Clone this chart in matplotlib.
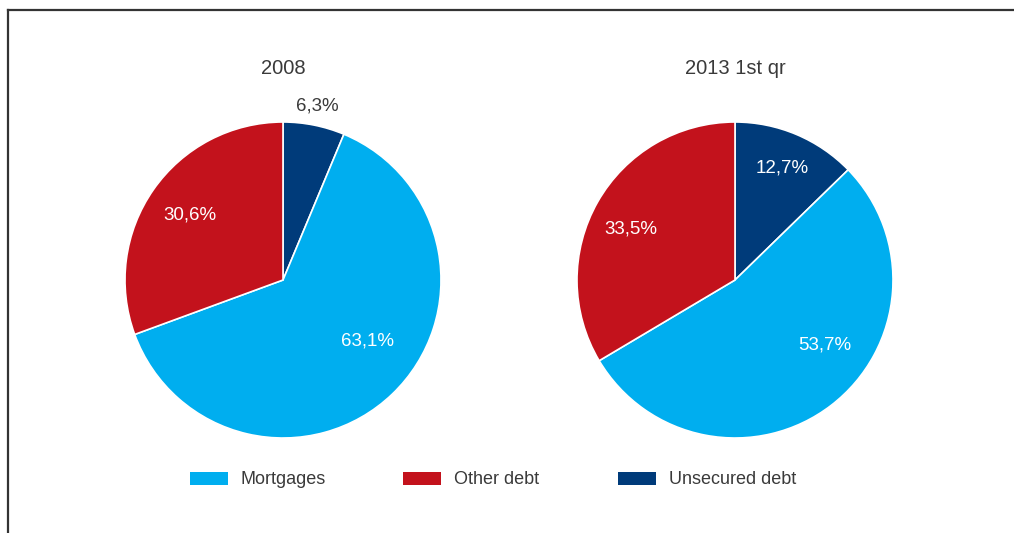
import numpy as np
import matplotlib
matplotlib.use("Agg")
import matplotlib.pyplot as plt
from matplotlib.lines import Line2D
from matplotlib.patches import Patch

plt.rcParams["font.family"] = ["Liberation Sans", "DejaVu Sans"]

# ── data ──────────────────────────────────────────────────────────────
categories = ["Unsecured debt", "Mortgages", "Other debt"]
share_2008 = [6.3, 63.1, 30.6]
share_2013 = [12.7, 53.7, 33.5]
titles = ["2008", "2013 1st qr"]
legend_order = ["Mortgages", "Other debt", "Unsecured debt"]

colors = {"Mortgages": "#00AEEF", "Other debt": "#C3121C",
          "Unsecured debt": "#003B7A"}
text_col = "#3a3a3a"

# label placement (angle override in degrees, radius); None = slice middle
label_style = [
    {"Unsecured debt": (None, 1.12), "Mortgages": (-35.5, 0.66), "Other debt": (None, 0.72)},
    {"Unsecured debt": (None, 0.77), "Mortgages": (-36.0, 0.70), "Other debt": (154.0, 0.73)},
]

fig = plt.figure(figsize=(10.14, 5.33), dpi=100)

centers_x = [283, 735]
radius_px = 158
cy = 280
W, H = 1014, 533

for k, (vals, title) in enumerate(zip([share_2008, share_2013], titles)):
    cx = centers_x[k]
    ax = fig.add_axes([(cx - radius_px) / W, 1 - (cy + radius_px) / H,
                       2 * radius_px / W, 2 * radius_px / H])
    wedges, _ = ax.pie(vals, colors=[colors[c] for c in categories],
                       startangle=90, counterclock=False,
                       wedgeprops=dict(edgecolor="white", linewidth=1.2))
    ax.set_xlim(-1, 1)
    ax.set_ylim(-1, 1)
    ax.set_aspect("equal")
    for w, v, cat in zip(wedges, vals, categories):
        ang, r = label_style[k][cat]
        if ang is None:
            ang = (w.theta1 + w.theta2) / 2
        a = np.deg2rad(ang)
        col = "white" if r < 1 else text_col
        ax.text(r * np.cos(a), r * np.sin(a), f"{v:.1f}%".replace(".", ","),
                ha="center", va="center", fontsize=13.5, color=col)
    ax.text(0, 1 + 53 / radius_px, title, ha="center", va="center",
            fontsize=14.5, color=text_col)

# legend entries spread across the bottom
legend_x = [190, 403, 618]
for name, x in zip(legend_order, legend_x):
    fig.legend(handles=[Patch(facecolor=colors[name], edgecolor="none")],
               labels=[name], loc="center left",
               bbox_to_anchor=(x / W, 1 - 480 / H), frameon=False,
               fontsize=13, labelcolor=text_col, borderpad=0,
               borderaxespad=0, handlelength=2.1, handleheight=0.75,
               handletextpad=0.7)

# box edges (left and top)
fig.add_artist(Line2D([8 / W, 8 / W], [0, 1 - 10 / H], color="#333333",
                      lw=1.6, transform=fig.transFigure))
fig.add_artist(Line2D([8 / W, 1], [1 - 10 / H, 1 - 10 / H], color="#333333",
                      lw=1.6, transform=fig.transFigure))

fig.savefig("out.png", dpi=100)
